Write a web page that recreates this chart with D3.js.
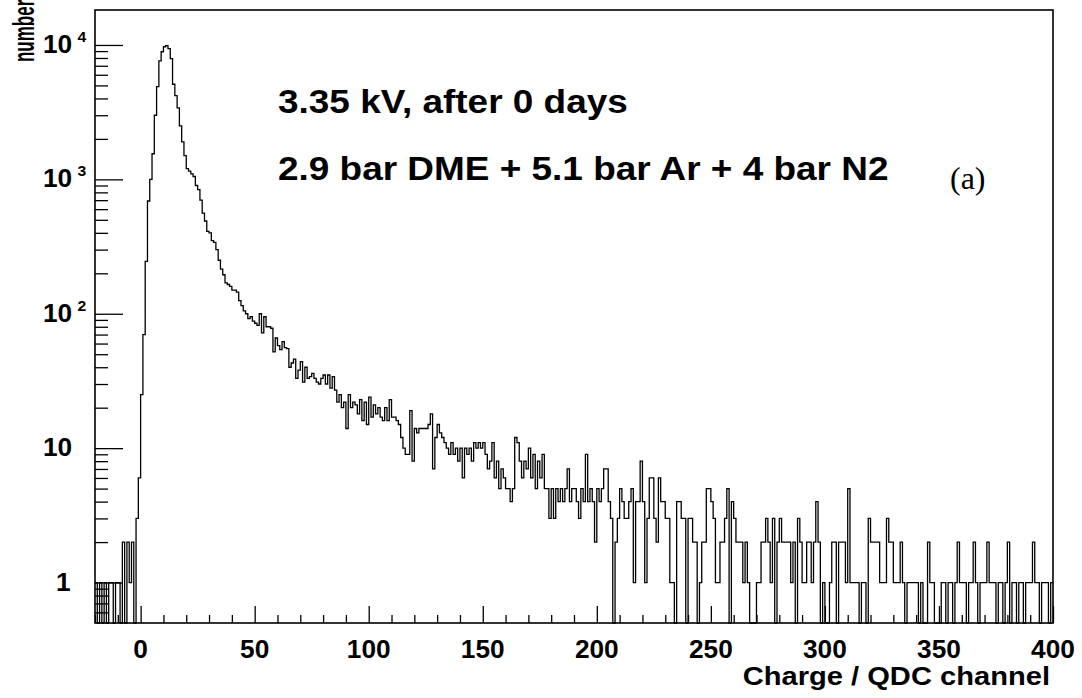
<!DOCTYPE html>
<html>
<head>
<meta charset="utf-8">
<script src="https://d3js.org/d3.v7.min.js"></script>
<style>
body { margin: 0; background: #fff; }
text { font-family: "Liberation Sans", Arial, sans-serif; font-weight: bold; fill: #000; }
</style>
</head>
<body>
<div id="chart"></div>
<script>
// QDC spectrum, one channel per bin, first bin starts at -20
var binStart = -20;
var binWidth = 1;
var counts = [
  // -20 .. -1
  1,0,1,0,1,0,1,1,0,1,1,0,2,0,2,1,2,0,3,6,
  // 0 .. 33
  25,70,245,690,1000,1550,3000,4900,7600,8900,9700,9900,9400,7900,5100,4200,3400,
  2500,1900,1500,1200,1150,1100,1050,900,840,700,560,490,410,400,350,340,300,
  // 34 .. 69
  250,215,195,170,165,160,150,150,145,125,115,105,100,92,95,88,85,82,100,72,
  95,80,80,78,52,66,58,54,62,56,55,40,43,46,33,38,
  // 70 .. 117
  44,31,40,33,34,36,33,31,30,33,35,30,35,28,34,27,22,25,20,22,14,25,20,22,
  21,18,23,16,22,15,24,17,21,18,20,17,16,20,16,23,17,17,16,15,12,10,9,9,
  // 118 .. 151
  19,8,14,13,14,14,14,14,15,18,7,12,15,13,12,11,10,9,11,9,10,8,10,6,10,9,10,8,11,10,11,10,11,9,
  // 152 .. 200
  7,8,11,6,8,5,7,6,5,5,4,5,12,11,8,6,8,7,10,6,9,5,8,6,9,5,5,3,5,3,5,4,5,4,5,7,4,5,5,4,3,5,4,9,4,5,4,2,5,
  // 201 .. 250
  4,5,7,7,4,3,0,2,3,5,4,3,3,4,5,1,4,4,8,4,1,3,6,6,3,2,6,4,4,3,3,1,1,0,4,4,3,3,0,3,3,2,2,0,1,2,2,5,5,4,
  // 251 .. 300
  3,1,1,2,2,3,5,0,4,3,2,2,2,1,2,1,0,0,0,1,1,2,2,3,2,1,3,0,2,3,2,2,2,2,1,2,0,3,2,1,1,2,2,1,2,4,2,0,1,0,
  // 301 .. 350
  0,1,2,2,0,2,2,2,1,5,1,1,1,1,0,1,1,0,3,2,2,2,2,1,1,1,3,2,2,1,1,1,2,1,0,1,1,1,1,1,0,1,0,0,2,1,1,0,0,0,
  // 351 .. 399
  1,1,0,1,1,0,1,2,1,1,1,0,1,1,2,1,0,1,1,1,2,1,1,1,0,1,1,0,1,2,0,1,1,0,1,1,0,1,1,1,2,1,1,0,1,1,1,0,1
];

var xTickValues = [0, 50, 100, 150, 200, 250, 300, 350, 400];
var yTickValues = [1, 10, 100, 1000, 10000];
var yTickBase = ["1", "10", "10", "10", "10"];
var yTickExp = ["", "", "2", "3", "4"];
var titleLines = ["3.35 kV, after 0 days", "2.9 bar DME + 5.1 bar Ar + 4 bar N2"];

var margin = {top: 10, right: 29, bottom: 75, left: 95},
    width = 1082 - margin.left - margin.right,
    height = 698 - margin.top - margin.bottom;
var stretch = 1.12;   // the scanned lettering is wider than the font
var tickStretch = 1.05;

var svg = d3.select("#chart")
  .append("svg")
  .attr("width", width + margin.left + margin.right)
  .attr("height", height + margin.top + margin.bottom);
var g = svg.append("g")
  .attr("transform", "translate(" + margin.left + "," + margin.top + ")");

var x = d3.scaleLinear().domain([-20, 400]).range([0, width]);
var y = d3.scaleLog().domain([0.5, 18200]).range([height, 0]);

// histogram outline
var edges = counts.map(function(c, i){ return {x: binStart + i*binWidth, c: c}; });
edges.push({x: binStart + counts.length*binWidth, c: counts[counts.length - 1]});
var line = d3.line()
  .x(function(d){ return x(d.x); })
  .y(function(d){ return y(Math.max(d.c, 0.5)); })
  .curve(d3.curveStepAfter);
g.append("path")
  .datum(edges)
  .attr("d", line)
  .attr("fill", "none")
  .attr("stroke", "#000")
  .attr("stroke-width", 1.3);

// ticks, drawn inside the frame
function styleAxis(sel){
  sel.select(".domain").remove();
  sel.selectAll("line").attr("stroke", "#000").attr("stroke-width", 1.3);
}
var minorX = d3.range(-20, 401, 10).filter(function(d){ return xTickValues.indexOf(d) < 0; });
g.append("g").attr("transform", "translate(0," + height + ")")
  .call(d3.axisBottom(x).tickValues(minorX).tickSize(-8).tickFormat(""))
  .call(styleAxis);
g.append("g").attr("transform", "translate(0," + height + ")")
  .call(d3.axisBottom(x).tickValues(xTickValues).tickSize(-17).tickFormat(""))
  .call(styleAxis);

var minorY = y.ticks().filter(function(d){ return yTickValues.indexOf(d) < 0 && d > 0.5; });
g.append("g")
  .call(d3.axisLeft(y).tickValues(minorY).tickSize(-13).tickFormat(""))
  .call(styleAxis);
g.append("g")
  .call(d3.axisLeft(y).tickValues(yTickValues).tickSize(-28).tickFormat(""))
  .call(styleAxis);

// frame
g.append("rect")
  .attr("width", width)
  .attr("height", height)
  .attr("fill", "none")
  .attr("stroke", "#000")
  .attr("stroke-width", 1.6);

// x labels
g.selectAll("xlabel")
  .data(xTickValues)
  .enter()
  .append("text")
  .attr("transform", function(d){ return "translate(" + x(d) + "," + (height + 35) + ") scale(" + tickStretch + ",1)"; })
  .attr("text-anchor", "middle")
  .style("font-size", "25px")
  .text(function(d){ return d; });

// y labels
var ylab = g.selectAll("ylabel")
  .data(yTickValues)
  .enter()
  .append("text")
  .attr("transform", function(d, i){
    var lx = yTickBase[i] == "1" ? -39 : -52;
    return "translate(" + lx + "," + (y(d) + 8) + ") scale(" + tickStretch + ",1)";
  })
  .style("font-size", "25px");
ylab.append("tspan").text(function(d, i){ return yTickBase[i]; });
ylab.append("tspan")
  .attr("dx", 5)
  .attr("dy", -11)
  .style("font-size", "15px")
  .text(function(d, i){ return yTickExp[i]; });

// axis titles
svg.append("text")
  .attr("transform", "translate(1050,685) scale(" + stretch + ",1)")
  .attr("text-anchor", "end")
  .style("font-size", "26px")
  .text("Charge / QDC channel");
svg.append("text")
  .attr("transform", "translate(34,62) scale(1.7,1) rotate(-90)")
  .attr("text-anchor", "start")
  .style("font-size", "17px")
  .text("number");

// annotation
svg.selectAll("titleline")
  .data(titleLines)
  .enter()
  .append("text")
  .attr("transform", function(d, i){ return "translate(278," + (113 + i*67) + ") scale(" + stretch + ",1)"; })
  .style("font-size", "33px")
  .text(function(d){ return d; });
svg.append("text")
  .attr("x", 950)
  .attr("y", 189)
  .style("font-family", "'Liberation Serif', serif")
  .style("font-weight", "normal")
  .style("font-size", "32px")
  .text("(a)");
</script>
</body>
</html>
